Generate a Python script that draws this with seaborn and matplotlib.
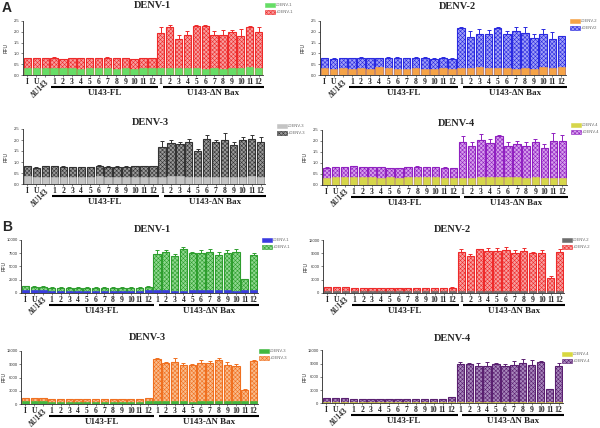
import numpy as np
import matplotlib
matplotlib.use("Agg")
import matplotlib.pyplot as plt
import seaborn as sns
from matplotlib.patches import Patch
from matplotlib.transforms import offset_copy

# Configuração visual
sns.set_style("ticks")
plt.rcParams["font.family"] = ["Liberation Serif", "DejaVu Serif"]
plt.rcParams["hatch.linewidth"] = 0.4
W, H = 600, 428
HACHURA = "xxxxxxxx"

CONDICOES = ["I", "U", "dU143"] + [f"FL{i}" for i in range(1, 13)] + [f"dN{i}" for i in range(1, 13)]
ROTULOS = ["I", "U", "ΔU143"] + [str(i) for i in range(1, 13)] + [str(i) for i in range(1, 13)]

# --- Painel A (RFU relativa) ---
a1_mais = [0.78, 0.77, 0.78, 0.80, 0.75, 0.79, 0.77, 0.78, 0.79, 0.81, 0.79, 0.77, 0.74, 0.78, 0.78,
           1.95, 2.23, 1.65, 1.83, 2.26, 2.24, 1.86, 1.84, 1.97, 1.81, 2.20, 1.97]
a1_erro = [0.02, 0.03, 0.02, 0.02, 0.01, 0.02, 0.01, 0.02, 0.02, 0.02, 0.02, 0.01, 0.02, 0.03, 0.02,
           0.25, 0.08, 0.20, 0.18, 0.03, 0.08, 0.15, 0.24, 0.10, 0.32, 0.08, 0.23]
a1_menos = [0.32, 0.33, 0.32, 0.34, 0.32, 0.35, 0.31, 0.33, 0.34, 0.32, 0.31, 0.33, 0.29, 0.33, 0.34,
            0.34, 0.33, 0.32, 0.33, 0.32, 0.31, 0.32, 0.31, 0.33, 0.35, 0.36, 0.35]

a2_mais = [0.79, 0.76, 0.78, 0.80, 0.80, 0.79, 0.78, 0.80, 0.80, 0.77, 0.80, 0.80, 0.76, 0.80, 0.76,
           2.17, 1.77, 1.88, 1.88, 2.17, 1.90, 2.01, 1.95, 1.72, 1.88, 1.65, 1.78]
a2_erro = [0.02, 0.03, 0.02, 0.01, 0.02, 0.02, 0.01, 0.02, 0.02, 0.01, 0.02, 0.02, 0.02, 0.02, 0.03,
           0.02, 0.26, 0.26, 0.20, 0.03, 0.14, 0.18, 0.27, 0.15, 0.23, 0.32, 0.04]
a2_menos = [0.34, 0.30, 0.33, 0.30, 0.32, 0.31, 0.36, 0.33, 0.31, 0.28, 0.33, 0.31, 0.30, 0.32, 0.31,
            0.32, 0.33, 0.36, 0.34, 0.32, 0.33, 0.31, 0.33, 0.31, 0.36, 0.34, 0.37]

a3_mais = [0.80, 0.75, 0.80, 0.80, 0.78, 0.76, 0.77, 0.76, 0.84, 0.78, 0.78, 0.79, 0.81, 0.81, 0.81,
           1.70, 1.85, 1.83, 1.92, 1.52, 2.06, 1.91, 1.98, 1.76, 2.01, 2.06, 1.89]
a3_erro = [0.02, 0.04, 0.02, 0.02, 0.02, 0.02, 0.02, 0.02, 0.03, 0.02, 0.02, 0.02, 0.02, 0.02, 0.02,
           0.27, 0.17, 0.10, 0.13, 0.08, 0.18, 0.10, 0.32, 0.15, 0.14, 0.18, 0.26]
a3_menos = [0.35, 0.30, 0.34, 0.33, 0.32, 0.30, 0.31, 0.31, 0.35, 0.33, 0.32, 0.31, 0.34, 0.34, 0.33,
            0.34, 0.37, 0.35, 0.31, 0.30, 0.31, 0.30, 0.31, 0.34, 0.33, 0.35, 0.34]

a4_mais = [0.76, 0.80, 0.80, 0.83, 0.79, 0.80, 0.80, 0.76, 0.76, 0.79, 0.81, 0.80, 0.80, 0.78, 0.76,
           1.95, 1.76, 2.03, 1.89, 2.21, 1.74, 1.83, 1.76, 1.92, 1.67, 2.00, 2.00]
a4_erro = [0.03, 0.02, 0.02, 0.02, 0.02, 0.02, 0.02, 0.02, 0.02, 0.02, 0.02, 0.02, 0.02, 0.02, 0.02,
           0.28, 0.17, 0.26, 0.20, 0.05, 0.18, 0.17, 0.17, 0.17, 0.17, 0.33, 0.26]
a4_menos = [0.32, 0.35, 0.34, 0.36, 0.33, 0.35, 0.31, 0.33, 0.30, 0.34, 0.33, 0.35, 0.33, 0.30, 0.32,
            0.31, 0.32, 0.34, 0.35, 0.34, 0.33, 0.34, 0.31, 0.33, 0.29, 0.30, 0.32]

# --- Painel B (RFU absoluta) ---
b1_mais = [1200, 1150, 1150, 950, 950, 950, 950, 950, 930, 950, 950, 950, 950, 920, 1100,
           7280, 7660, 6960, 8350, 7530, 7530, 7660, 7090, 7530, 7720, 2530, 7090]
b1_erro = [120, 100, 100, 80, 80, 80, 80, 80, 80, 80, 80, 80, 80, 80, 100,
           760, 500, 380, 250, 130, 570, 570, 630, 570, 570, 150, 440]
b1_menos = [550, 500, 480, 300, 280, 300, 280, 300, 280, 300, 300, 300, 300, 280, 550,
            420, 480, 400, 380, 420, 500, 450, 600, 450, 400, 420, 450]

b2_mais = [1220, 1250, 1250, 1070, 1070, 1070, 1070, 1070, 1070, 1100, 1070, 1070, 1100, 1070, 1150,
           9330, 8330, 9940, 9560, 9480, 9710, 9020, 9480, 9020, 9170, 3290, 9330]
b2_erro = [100, 120, 100, 80, 80, 80, 80, 80, 80, 80, 80, 80, 80, 80, 100,
           760, 460, 150, 690, 760, 690, 840, 690, 380, 530, 530, 610]
b2_menos = [420, 450, 480, 400, 380, 400, 380, 400, 380, 400, 380, 400, 400, 380, 420,
            450, 420, 430, 450, 470, 450, 400, 430, 420, 450, 420, 430]

b3_mais = [1280, 1300, 1300, 1130, 1150, 1150, 1130, 1150, 1150, 1130, 1130, 1130, 1150, 1130, 1350,
           10110, 9280, 9510, 8900, 8830, 9360, 9280, 10040, 8830, 8530, 3090, 9660]
b3_erro = [100, 120, 120, 80, 80, 80, 80, 80, 80, 80, 80, 80, 80, 80, 120,
           230, 150, 900, 450, 300, 530, 530, 380, 680, 530, 300, 380]
b3_menos = [700, 720, 750, 380, 400, 380, 400, 380, 400, 380, 380, 400, 380, 380, 720,
            650, 620, 650, 600, 550, 600, 620, 640, 600, 620, 600, 580]

b4_mais = [1200, 1150, 1100, 950, 1000, 980, 1000, 1000, 950, 980, 1000, 950, 980, 1000, 1360,
           8980, 8900, 8530, 8530, 8830, 8380, 8600, 9210, 8750, 9430, 3170, 8380]
b4_erro = [100, 100, 100, 80, 80, 80, 80, 80, 80, 80, 80, 80, 80, 80, 100,
           450, 230, 680, 750, 380, 450, 900, 830, 980, 150, 60, 750]
b4_menos = [300, 320, 300, 280, 300, 280, 300, 280, 300, 280, 300, 280, 300, 280, 320,
            320, 300, 320, 300, 320, 300, 320, 300, 320, 300, 300, 320]

A_TICKS = [0.0, 0.5, 1.0, 1.5, 2.0, 2.5]
A_ROTULOS = ["0.0", "0.5", "1.0", "1.5", "2.0", "2.5"]
B1_TICKS = [0, 2500, 5000, 7500, 10000]
B_TICKS = [0, 3000, 6000, 9000, 12000]

fig = plt.figure(figsize=(W / 100, H / 100), dpi=100)


def painel(rect, titulo, pos_titulo, mais, erro, menos, cor_menos, cor_mais, claro_mais,
           rotulos_leg, pos_leg, yticks, yrotulos):
    l, t, r, b = rect
    ax = fig.add_axes([l / W, 1 - b / H, (r - l) / W, (b - t) / H])

    n0 = len(ax.patches)
    sns.barplot(x=CONDICOES, y=mais, order=CONDICOES, color=claro_mais, saturation=1,
                width=0.82, errorbar=None, ax=ax)
    for p in ax.patches[n0:]:
        p.set_edgecolor(cor_mais)
        p.set_hatch(HACHURA)
        p.set_linewidth(0.8)
    n1 = len(ax.patches)
    sns.barplot(x=CONDICOES, y=menos, order=CONDICOES, color=cor_menos, saturation=1,
                width=0.82, errorbar=None, ax=ax)
    for p in ax.patches[n1:]:
        p.set_edgecolor(cor_menos)
        p.set_linewidth(0.4)

    x = np.arange(len(mais))
    ax.errorbar(x, mais, yerr=[np.zeros(len(mais)), erro], fmt="none", ecolor=cor_mais,
                elinewidth=0.7, capsize=1.5, capthick=0.7)

    ax.set_xlim(-0.5, len(mais) - 0.5)
    ax.set_ylim(yticks[0], yticks[-1])
    ax.set_yticks(yticks)
    ax.set_yticklabels(yrotulos, family="Liberation Sans", fontsize=3, color="#333333")
    ax.set_xticks(x)
    ax.set_xticklabels(ROTULOS, fontsize=5.5, fontweight="bold")
    rot = ax.get_xticklabels()[2]
    rot.set_rotation(45)
    rot.set_ha("right")
    rot.set_va("top")
    rot.set_rotation_mode("anchor")
    ax.tick_params(axis="x", length=1.2, width=0.4, pad=1)
    ax.tick_params(axis="y", length=1.5, width=0.4, pad=1)
    ax.set_xlabel("")
    ax.set_ylabel("RFU", family="Liberation Sans", fontsize=3.5)
    ax.yaxis.set_label_coords(-14 / (r - l), 0.5)
    sns.despine(ax=ax)
    for s in ("left", "bottom"):
        ax.spines[s].set_linewidth(0.6)

    # barras de grupo
    t_linha = offset_copy(ax.get_xaxis_transform(), fig=fig, y=-12, units="dots")
    t_texto = offset_copy(ax.get_xaxis_transform(), fig=fig, y=-18, units="dots")
    for x0, x1, nome in [(2.7, 14.7, "U143-FL"), (15.2, 26.6, "U143-ΔN Bax")]:
        ax.plot([x0, x1], [0, 0], transform=t_linha, color="black", lw=1.5,
                clip_on=False, solid_capstyle="butt")
        ax.text((x0 + x1) / 2, 0, nome, transform=t_texto, ha="center", va="center",
                fontsize=6.5, fontweight="bold")

    fig.text(pos_titulo[0] / W, 1 - pos_titulo[1] / H, titulo, ha="center", va="center",
             fontsize=7.5, fontweight="bold")

    alcas = [Patch(facecolor=cor_menos, edgecolor=cor_menos, lw=0.4, label=rotulos_leg[0]),
             Patch(facecolor=claro_mais, edgecolor=cor_mais, hatch=HACHURA, lw=0.4, label=rotulos_leg[1])]
    leg = ax.legend(handles=alcas, loc="upper left", bbox_to_anchor=(pos_leg[0] / W, 1 - pos_leg[1] / H),
                    bbox_transform=fig.transFigure, frameon=False,
                    prop={"family": "Liberation Sans", "size": 3.0},
                    handlelength=2.4, handleheight=1.0, labelspacing=0.6, borderpad=0,
                    handletextpad=0.2, borderaxespad=0)
    for txt in leg.get_texts():
        txt.set_color("#666666")
    return ax


painel((23, 20.7, 263, 75.3), "DENV-1", (152, 5.5), a1_mais, a1_erro, a1_menos,
       "#66DD66", "#EE2A2A", "#F7A0A0", ["-DENV-1", "+DENV-1"], (265, 3), A_TICKS, A_ROTULOS)
painel((320, 20.7, 566, 75.3), "DENV-2", (457, 6.5), a2_mais, a2_erro, a2_menos,
       "#F5A347", "#2A2AE0", "#A0A0F7", ["-DENV-2", "+DENV2"], (570, 19), A_TICKS, A_ROTULOS)
painel((23, 129, 265, 184), "DENV-3", (150, 122.5), a3_mais, a3_erro, a3_menos,
       "#C4C4C4", "#333333", "#9A9A9A", ["-DENV-3", "+DENV-3"], (277, 124), A_TICKS, A_ROTULOS)
painel((322, 129.7, 567, 184.7), "DENV-4", (457, 123), a4_mais, a4_erro, a4_menos,
       "#D6D64A", "#9020C0", "#D6A0EC", ["-DENV-4", "+DENV-4"], (571, 123), A_TICKS, A_ROTULOS)

painel((21, 240, 258, 292.7), "DENV-1", (152, 229), b1_mais, b1_erro, b1_menos,
       "#3A3AE0", "#2E9E2E", "#90D890", ["-DENV-1", "+DENV-1"], (262, 238),
       B1_TICKS, [str(v) for v in B1_TICKS])
painel((323, 240.3, 564, 292.7), "DENV-2", (452, 229), b2_mais, b2_erro, b2_menos,
       "#6E6E6E", "#EE2A2A", "#F7A0A0", ["-DENV-2", "+DENV-2"], (562, 238),
       B_TICKS, [str(v) for v in B_TICKS])
painel((21, 351, 258, 404), "DENV-3", (147, 338), b3_mais, b3_erro, b3_menos,
       "#40B840", "#F07020", "#F9BC8C", ["-DENV-3", "+DENV-3"], (259, 349),
       B_TICKS, [str(v) for v in B_TICKS])
painel((322, 350.3, 563, 403.3), "DENV-4", (452, 338.5), b4_mais, b4_erro, b4_menos,
       "#D8D840", "#5A2070", "#A888BC", ["-DENV-4", "+DENV-4"], (562, 352),
       B_TICKS, [str(v) for v in B_TICKS])

fig.text(2 / W, 1 - 8 / H, "A", family="Liberation Sans", fontsize=10, fontweight="bold",
         ha="left", va="center")
fig.text(2 / W, 1 - 227 / H, "B", family="Liberation Sans", fontsize=10, fontweight="bold",
         ha="left", va="center")

fig.savefig("out.png", dpi=100)
